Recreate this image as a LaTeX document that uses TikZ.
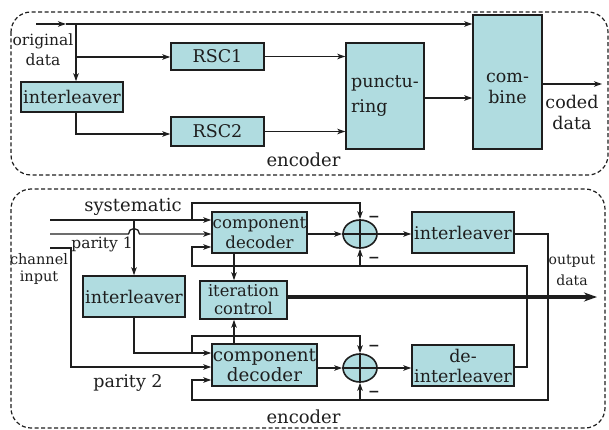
\documentclass[tikz,border=0pt]{standalone}
\usepackage{fontspec}
\setmainfont{DejaVu Serif}
\usetikzlibrary{arrows.meta,shapes.geometric}
\definecolor{boxc}{RGB}{176,220,224}
\definecolor{ink}{RGB}{30,30,30}
\begin{document}
\begin{tikzpicture}[x=1pt,y=-1pt,
  box/.style={draw=ink, fill=boxc, line width=1.5pt, inner sep=0pt, align=center, text=ink, font=\fontsize{17.5}{21}\selectfont},
  ln/.style={draw=ink, line width=1.3pt},
  arr/.style={ln, -{Stealth[length=8pt,width=5.5pt,inset=2.2pt]}},
  thickarr/.style={draw=ink, line width=3.6pt, -{Stealth[length=13pt,width=9pt,inset=4pt]}},
  panel/.style={draw=ink, dash pattern=on 4pt off 2.5pt, line width=1.2pt, rounded corners=20pt},
  lbl/.style={inner sep=0pt, align=center, text=ink},
  sumc/.style={ellipse, draw=ink, fill=boxc, line width=1.6pt, minimum width=34pt, minimum height=28pt, inner sep=0pt},
  minus/.style={inner sep=0pt, text=ink, font=\bfseries\fontsize{14}{14}\selectfont}
]
\useasboundingbox (0,0) rectangle (609,430);

% ---------------- top panel ----------------
\draw[panel] (11,12) rectangle (608,175);
\node[box, minimum width=93pt, minimum height=27pt] (rsc1) at (217.5,56.5) {RSC1};
\node[box, minimum width=93pt, minimum height=29pt] (rsc2) at (217.5,131.5) {RSC2};
\node[box, minimum width=102pt, minimum height=30pt] (il0) at (72,97) {interleaver};
\node[box, minimum width=78pt, minimum height=106pt, align=left, font=\fontsize{17.5}{25}\selectfont] (pun) at (385,96) {punctu-\\ring};
\node[box, minimum width=69pt, minimum height=134pt] (comb) at (507.5,82) {};
\node[lbl, font=\fontsize{17.5}{21}\selectfont] (combt) at (507.5,88) {com-\\bine};

\coordinate (in) at (36,24);
\coordinate (m0) at (66,24);
\coordinate (j0) at (76,24);
\coordinate (j1) at (76,57);
\coordinate (j2) at (76,134);
\coordinate (p0) at (424,98);
\coordinate (out0) at (602,84);
\draw[arr] (in) -- (m0);
\draw[arr] (m0) -- (m0 -| comb.west);
\draw[arr] (j0) -- (j0 |- il0.north);
\draw[arr] (j1) -- (j1 -| rsc1.west);
\draw[arr] (j2 |- il0.south) -- (j2) -- (j2 -| rsc2.west);
\draw[arr] (rsc1.east) -- (rsc1.east -| pun.west);
\draw[arr] (rsc2.east) -- (rsc2.east -| pun.west);
\draw[arr] (pun.east |- p0) -- (p0 -| comb.west);
\draw[arr] (comb.east |- out0) -- (out0);

\node[lbl, font=\fontsize{15.5}{20}\selectfont] (orig) at (43,50) {original\\data};
\node[lbl, font=\fontsize{17.5}{21}\selectfont] (coded) at (572,112) {coded\\data};
\node[lbl, font=\fontsize{18}{21}\selectfont] (enc1) at (303.5,160) {encoder};

% ---------------- bottom panel ----------------
\draw[panel] (11,189) rectangle (605,428);
\node[box, minimum width=95pt, minimum height=41pt, font=\fontsize{16.6}{20}\selectfont] (dec1) at (259.5,232.5) {component\\decoder};
\node[box, minimum width=105pt, minimum height=42pt, font=\fontsize{18.3}{20}\selectfont] (dec2) at (264.5,365) {component\\decoder};
\node[box, minimum width=102pt, minimum height=41pt] (il2) at (463,232.5) {interleaver};
\node[box, minimum width=102pt, minimum height=41pt, font=\fontsize{17.5}{20}\selectfont] (deil) at (463,365.5) {de-\\interleaver};
\node[box, minimum width=87pt, minimum height=38pt, font=\fontsize{16.3}{18}\selectfont] (ic) at (243.5,300) {iteration\\control};
\node[box, minimum width=102pt, minimum height=41pt] (il1) at (134,296.5) {interleaver};
\node[sumc] (s1) at (360,234) {};
\node[sumc] (s2) at (360,368) {};
\draw[ln, line width=1.4pt] (s1.north) -- (s1.south) (s1.west) -- (s1.east);
\draw[ln, line width=1.4pt] (s2.north) -- (s2.south) (s2.west) -- (s2.east);

% systematic
\coordinate (sys) at (50,220);
\coordinate (ja) at (134,220);
\coordinate (jb) at (192,220);
\coordinate (tb) at (192,203);
\draw[arr] (sys) -- (sys -| dec1.west);
\draw[arr] (ja) -- (ja |- il1.north);
\draw[arr] (jb) -- (tb) -- (tb -| s1.north) -- (s1.north);
% parity 1 with hop
\coordinate (p1) at (50,234);
\draw[arr] (p1) -- (128.5,234) arc[start angle=180,end angle=360,radius=5.5] -- (p1 -| dec1.west);
% parity 2
\coordinate (p2) at (50,248);
\coordinate (p2c) at (71,367);
\draw[arr] (p2) -- (p2 -| p2c) -- (p2c) -- (p2c -| dec2.west);
% interleaved systematic
\coordinate (ia) at (134,353);
\coordinate (ib) at (192,353);
\coordinate (ic2) at (192,336);
\draw[arr] (il1.south) -- (ia) -- (ia -| dec2.west);
\draw[arr] (ib) -- (ic2) -- (ic2 -| s2.north) -- (s2.north);
% de-interleaver feedback
\coordinate (dr) at (527,367);
\coordinate (dt) at (527,266);
\coordinate (dl) at (192,266);
\coordinate (dl2) at (192,247);
\draw[arr] (deil.east |- dr) -- (dr) -- (dt) -- (dl) -- (dl2) -- (dl2 -| dec1.west);
\draw[arr] (s1.south |- dt) -- (s1.south);
% interleaver feedback
\coordinate (ir) at (548,234);
\coordinate (ib2) at (548,400);
\coordinate (ibl) at (192,400);
\coordinate (ibl2) at (192,380);
\draw[arr] (il2.east |- ir) -- (ir) -- (ib2) -- (ibl) -- (ibl2) -- (ibl2 -| dec2.west);
\draw[arr] (s2.south |- ib2) -- (s2.south);
% forward paths
\draw[arr] (dec1.east |- s1.west) -- (s1.west);
\draw[arr] (s1.east) -- (s1.east -| il2.west);
\draw[arr] (dec2.east |- s2.west) -- (s2.west);
\draw[arr] (s2.east) -- (s2.east -| deil.west);
\coordinate (vx) at (234,0);
\draw[arr] (dec1.south -| vx) -- (ic.north -| vx);
\draw[arr] (dec2.north -| vx) -- (ic.south -| vx);
\coordinate (od) at (597,297);
\draw[thickarr] (ic.east |- od) -- (od);

% minus signs
\node[minus] (mn1) at (374,219) {−};
\node[minus] (mn2) at (374,260) {−};
\node[minus] (mn3) at (374,348) {−};
\node[minus] (mn4) at (374,394) {−};

% labels
\node[lbl, font=\fontsize{18}{21}\selectfont] (systl) at (133,207) {systematic};
\node[lbl, font=\fontsize{15.5}{19}\selectfont] (par1) at (102,244) {parity 1};
\node[lbl, font=\fontsize{17.5}{21}\selectfont] (par2) at (128,383) {parity 2};
\node[lbl, font=\fontsize{14.5}{17}\selectfont] (chin) at (39,268.5) {channel\\input};
\node[lbl, font=\fontsize{14}{21}\selectfont] (outd) at (572,270) {output\\data};
\node[lbl, font=\fontsize{18}{21}\selectfont] (enc2) at (303.5,417) {encoder};
\end{tikzpicture}
\end{document}
